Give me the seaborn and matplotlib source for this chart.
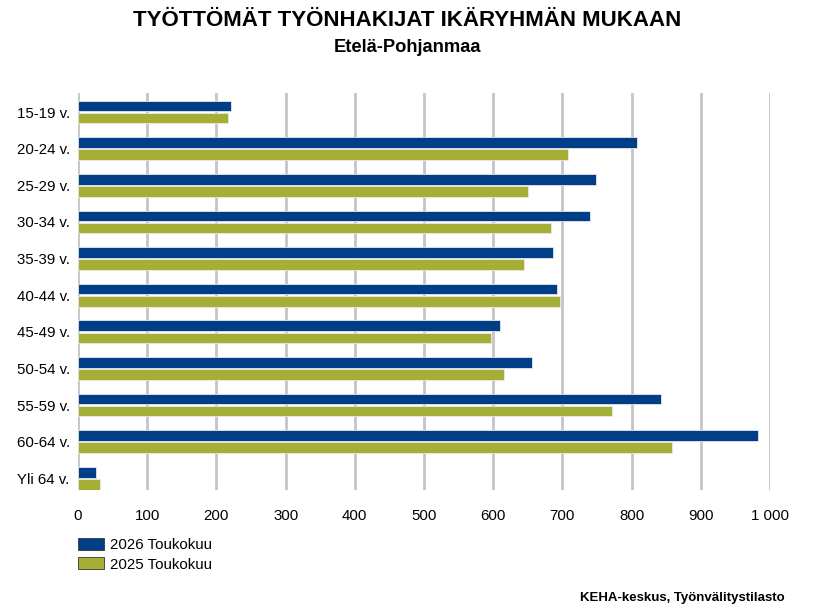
import matplotlib
matplotlib.use("Agg")
import matplotlib.pyplot as plt
import seaborn as sns
import pandas as pd
from matplotlib.patches import Patch
from matplotlib.ticker import FuncFormatter

categories = ["15-19 v.", "20-24 v.", "25-29 v.", "30-34 v.", "35-39 v.", "40-44 v.",
              "45-49 v.", "50-54 v.", "55-59 v.", "60-64 v.", "Yli 64 v."]
values_2026 = [221, 808, 749, 740, 687, 692, 610, 656, 842, 982, 26]
values_2025 = [217, 708, 651, 683, 645, 696, 597, 615, 771, 859, 32]
series = ["2026 Toukokuu", "2025 Toukokuu"]
colors = ["#003F87", "#A5AF35"]
xticks = [0, 100, 200, 300, 400, 500, 600, 700, 800, 900, 1000]

df = pd.DataFrame({
    "cat": categories * 2,
    "val": values_2026 + values_2025,
    "series": [series[0]] * len(categories) + [series[1]] * len(categories),
})

sns.set_theme(style="white")
plt.rcParams["font.family"] = ["Liberation Sans", "DejaVu Sans"]
plt.rcParams["text.color"] = "black"

fig = plt.figure(figsize=(8.15, 6.11), dpi=100)
ax = fig.add_axes([78 / 815, 1 - 490 / 611, (770 - 78) / 815, (490 - 93) / 611])

sns.barplot(data=df, y="cat", x="val", hue="series", order=categories,
            hue_order=series, palette=colors, orient="h", width=0.66,
            gap=0.12, ax=ax, legend=False, edgecolor="#E8E8E8", linewidth=0.6,
            saturation=1)

ax.set_xlim(0, 1000)
ax.set_ylim(10.32, -0.52)
ax.set_xticks(xticks)
ax.xaxis.set_major_formatter(FuncFormatter(lambda v, p: f"{int(v):,}".replace(",", " ")))
ax.grid(axis="x", color="#C4C4C4", linewidth=2)
ax.grid(axis="y", visible=False)
ax.set_axisbelow(True)
for s in ax.spines.values():
    s.set_visible(False)
ax.set_xlabel("")
ax.set_ylabel("")
ax.tick_params(axis="both", length=0, labelsize=10.8, colors="black")
ax.tick_params(axis="x", pad=14)
ax.tick_params(axis="y", pad=6)

fig.text(0.5, 1 - 20 / 611, "TYÖTTÖMÄT TYÖNHAKIJAT IKÄRYHMÄN MUKAAN", ha="center",
         va="center", fontsize=16, fontweight="bold", color="black")
fig.text(0.5, 1 - 47 / 611, "Etelä-Pohjanmaa", ha="center", va="center",
         fontsize=13.2, fontweight="bold", color="black")

handles = [Patch(facecolor=c, edgecolor="#333333", linewidth=0.6, label=l)
           for c, l in zip(colors, series)]
fig.legend(handles=handles, loc="upper left", bbox_to_anchor=(78 / 815, 1 - 538 / 611),
           frameon=False, fontsize=10.8, handlelength=1.75, handleheight=0.85,
           handletextpad=0.35, labelspacing=0.35, borderaxespad=0, borderpad=0,
           labelcolor="black")

fig.text(785 / 815, 1 - 598 / 611, "KEHA-keskus, Työnvälitystilasto", ha="right",
         va="center", fontsize=9.5, fontweight="bold", color="black")

fig.savefig("out.png", dpi=100)
